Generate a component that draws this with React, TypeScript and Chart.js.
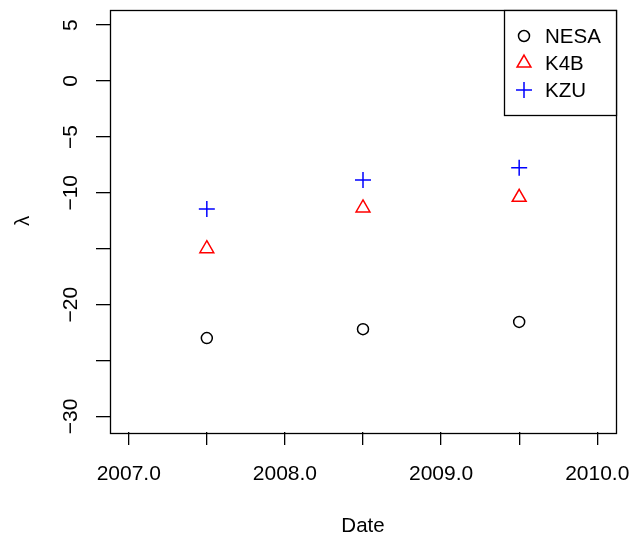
import React, { useEffect, useRef } from "react";
import { Chart, registerables } from "chart.js";

Chart.register(...registerables);

const years = [2007.5, 2008.5, 2009.5];
const nesa = [-23.0, -22.2, -21.55];
const k4b = [-15.0, -11.35, -10.4];
const kzu = [-11.45, -8.85, -7.75];
const seriesNames = ["NESA", "K4B", "KZU"];
const seriesColors = ["#000000", "#ff0000", "#0000ff"];
const seriesStyles = ["circle", "triangle", "cross"];
const seriesRadius = [5.5, 8, 8];
const xTicks = [2007, 2007.5, 2008, 2008.5, 2009, 2009.5, 2010];
const yTicks = [-30, -25, -20, -15, -10, -5, 0, 5];
const yLabeled = [-30, -20, -10, -5, 0, 5];
const xTitle = "Date";
const yTitle = "λ";

const FONT = "'Liberation Sans', Arial, Helvetica, sans-serif";

function fmtY(v: number) {
  return v < 0 ? "\u2212" + Math.abs(v) : String(v);
}

function drawSymbol(ctx: CanvasRenderingContext2D, style: string, x: number, y: number, r: number, color: string) {
  ctx.save();
  ctx.strokeStyle = color;
  ctx.lineWidth = 1.5;
  ctx.beginPath();
  if (style === "circle") {
    ctx.arc(x, y, r, 0, Math.PI * 2);
  } else if (style === "triangle") {
    ctx.moveTo(x, y - r);
    ctx.lineTo(x + r * Math.cos(Math.PI / 6), y + r / 2);
    ctx.lineTo(x - r * Math.cos(Math.PI / 6), y + r / 2);
    ctx.closePath();
  } else {
    ctx.moveTo(x - r, y);
    ctx.lineTo(x + r, y);
    ctx.moveTo(x, y - r);
    ctx.lineTo(x, y + r);
  }
  ctx.stroke();
  ctx.restore();
}

const decorPlugin = {
  id: "decor",
  afterDraw(chart: any) {
    const ctx: CanvasRenderingContext2D = chart.ctx;
    const a = chart.chartArea;
    ctx.save();
    // plot box
    ctx.strokeStyle = "#000";
    ctx.lineWidth = 1.3;
    ctx.strokeRect(Math.round(a.left) + 0.5, Math.round(a.top) + 0.5, Math.round(a.right - a.left), Math.round(a.bottom - a.top));
    // y tick labels (rotated, like R)
    const ys = chart.scales.y;
    ctx.fillStyle = "#000";
    ctx.font = `21px ${FONT}`;
    ctx.textAlign = "center";
    ctx.textBaseline = "alphabetic";
    for (const t of ys.ticks) {
      if (!yLabeled.includes(t.value)) continue;
      const py = ys.getPixelForValue(t.value);
      ctx.save();
      ctx.translate(a.left - 33, py);
      ctx.rotate(-Math.PI / 2);
      ctx.fillText(fmtY(t.value), 0, 0);
      ctx.restore();
    }
    // legend (top right, inside the plot)
    const lw = 112;
    const lh = 105;
    const lx = Math.round(a.right - lw);
    const ly = Math.round(a.top);
    ctx.fillStyle = "#fff";
    ctx.fillRect(lx, ly, lw, lh);
    ctx.strokeStyle = "#000";
    ctx.lineWidth = 1.3;
    ctx.strokeRect(lx + 0.5, ly + 0.5, lw, lh);
    ctx.font = `20.5px ${FONT}`;
    ctx.textAlign = "left";
    ctx.textBaseline = "middle";
    chart.data.datasets.forEach((ds: any, i: number) => {
      const cy = ly + 26 + i * 27;
      drawSymbol(ctx, ds.pointStyle, lx + 20, cy, ds.pointRadius, ds.borderColor);
      ctx.fillStyle = "#000";
      ctx.fillText(ds.label, lx + 41, cy + 1);
    });
    ctx.restore();
  },
};

export default function App() {
  const ref = useRef<HTMLCanvasElement | null>(null);
  useEffect(() => {
    if (!ref.current) return;
    const chart = new Chart(ref.current, {
      type: "scatter",
      data: {
        datasets: seriesNames.map((name, i) => ({
          label: name,
          data: years.map((x, j) => ({ x, y: [nesa, k4b, kzu][i][j] })),
          pointStyle: seriesStyles[i] as any,
          pointRadius: seriesRadius[i],
          pointHoverRadius: seriesRadius[i],
          borderColor: seriesColors[i],
          backgroundColor: "rgba(0,0,0,0)",
          pointBorderWidth: 1.5,
          borderWidth: 1.5,
          showLine: false,
        })),
      },
      options: {
        animation: false,
        responsive: false,
        maintainAspectRatio: false,
        events: [],
        layout: { padding: { top: 7, right: 18, left: 0, bottom: 0 } },
        plugins: { legend: { display: false }, tooltip: { enabled: false } },
        scales: {
          x: {
            type: "linear",
            min: 2006.88,
            max: 2010.12,
            afterBuildTicks: (s: any) => {
              s.ticks = xTicks.map((v) => ({ value: v }));
            },
            afterFit: (s: any) => {
              s.height = 107;
              s.paddingLeft = 0;
              s.paddingRight = 0;
            },
            border: { display: false },
            grid: { drawOnChartArea: false, drawTicks: true, tickLength: 13, color: "#000", lineWidth: 1.3 },
            ticks: {
              autoSkip: false,
              maxRotation: 0,
              padding: 17,
              color: "#000",
              font: { family: FONT, size: 21 },
              callback: (v: any) => (Number.isInteger(Number(v)) ? Number(v).toFixed(1) : ""),
            },
            title: {
              display: true,
              text: xTitle,
              color: "#000",
              font: { family: FONT, size: 20.5 },
              padding: { top: 0, bottom: 0 },
            },
          },
          y: {
            type: "linear",
            min: -31.4,
            max: 6.4,
            afterBuildTicks: (s: any) => {
              s.ticks = yTicks.map((v) => ({ value: v }));
            },
            afterFit: (s: any) => {
              s.width = 110;
              s.paddingTop = 0;
              s.paddingBottom = 0;
            },
            border: { display: false },
            grid: { drawOnChartArea: false, drawTicks: true, tickLength: 14, color: "#000", lineWidth: 1.3 },
            ticks: { display: false, autoSkip: false },
            title: {
              display: true,
              text: yTitle,
              color: "#000",
              font: { family: FONT, size: 20.5 },
              padding: { top: 11, bottom: 0 },
            },
          },
        },
      },
      plugins: [decorPlugin],
    });
    return () => chart.destroy();
  }, []);
  return (
    <div style={{ position: "fixed", left: 0, top: 0, width: 634, height: 539, background: "#fff" }}>
      <canvas ref={ref} width={634} height={539} style={{ width: 634, height: 539, display: "block" }} />
    </div>
  );
}
